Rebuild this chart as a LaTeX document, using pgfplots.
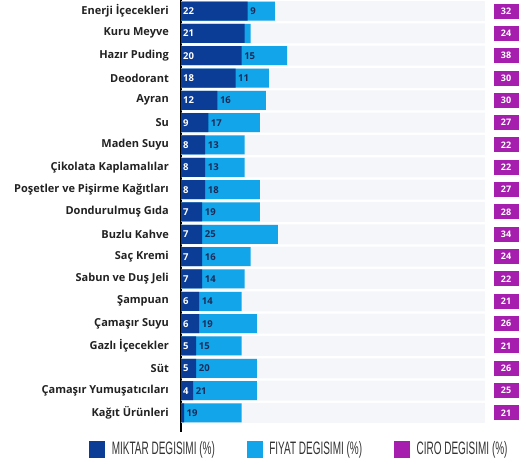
\documentclass[border=0pt]{standalone}
\usepackage{pgfplots}
\pgfplotsset{compat=1.18}
\usepackage{pgfplotstable}
\usepackage{fontspec}
\setmainfont{Open Sans}
\newfontfamily\condfont[FakeStretch=0.555]{Liberation Sans}
\definecolor{dark}{HTML}{0B3C96}
\definecolor{light}{HTML}{12A5EA}
\definecolor{ciro}{HTML}{A51EAE}
\definecolor{band}{HTML}{F5F6F9}
\definecolor{navy}{HTML}{1B2A56}
\definecolor{txt}{HTML}{222222}
\definecolor{leg}{HTML}{333333}

\pgfplotstableread{
idx dark light ciro band
0 22 9 32 100.3
1 21 2 24 100.3
2 20 15 38 100.3
3 18 11 30 100.3
4 12 16 30 100.3
5 9 17 27 100.3
6 8 13 22 100.3
7 8 13 22 100.3
8 8 18 27 100.3
9 7 19 28 100.3
10 7 25 34 100.3
11 7 16 24 100.3
12 7 14 22 100.3
13 6 14 21 100.3
14 6 19 26 100.3
15 5 15 21 100.3
16 5 20 26 100.3
17 4 21 25 100.3
18 1 19 21 100.3
}\data

\begin{document}
\begin{tikzpicture}[x=1pt,y=1pt]
\path[use as bounding box] (0,0) rectangle (526,466);
\begin{axis}[
  at={(181pt,34pt)}, anchor=south west,
  scale only axis, width=345pt, height=432pt,
  xmin=0, xmax=113.86, ymin=-0.493, ymax=18.853,
  y dir=reverse, clip=false,
  axis x line=none, axis y line*=left,
  y axis line style={line width=1.6pt, black},
  xtick=\empty,
  ytick={0,...,18}, major tick length=0pt,
  yticklabels={Enerji İçecekleri, Kuru Meyve, Hazır Puding, Deodorant, Ayran, Su, Maden Suyu, Çikolata Kaplamalılar, Poşetler ve Pişirme Kağıtları, Dondurulmuş Gıda, Buzlu Kahve, Saç Kremi, Sabun ve Duş Jeli, Şampuan, Çamaşır Suyu, Gazlı İçecekler, Süt, Çamaşır Yumuşatıcıları, Kağıt Ürünleri},
  yticklabel style={font=\bfseries\fontsize{11}{11}\selectfont, text=txt, inner sep=0pt, xshift=-12pt},
  legend columns=3,
  legend style={at={(0.3406,-0.0394)}, anchor=center, draw=none, fill=none,
    font=\condfont\fontsize{18}{18}\selectfont, text=leg,
    inner sep=0pt,
    nodes={inner sep=0pt},
    /tikz/every even column/.append style={column sep=32pt}},
]
\addlegendimage{legend image code/.code={\fill[dark] (0pt,-8pt) rectangle (15pt,8pt); \path (22pt,0pt);}}
\addlegendentry{MIKTAR DEGISIMI (\%)}
\addlegendimage{legend image code/.code={\fill[light] (0pt,-8pt) rectangle (15pt,8pt); \path (22pt,0pt);}}
\addlegendentry{FIYAT DEGISIMI (\%)}
\addlegendimage{legend image code/.code={\fill[ciro] (0pt,-8pt) rectangle (15pt,8pt); \path (22pt,0pt);}}
\addlegendentry{CIRO DEGISIMI (\%)}

\addplot[forget plot, xbar, bar width=20pt, bar shift=0pt, fill=band, draw=none] table[x=band, y=idx] {\data};
\addplot[forget plot, xbar, bar width=19pt, bar shift=0pt, fill=light, draw=none] table[x expr=\thisrow{dark}+\thisrow{light}, y=idx] {\data};
\addplot[forget plot, xbar, bar width=19pt, bar shift=0pt, fill=dark, draw=none] table[x=dark, y=idx] {\data};

\addplot[forget plot, only marks, mark=*, mark size=0pt, mark options={draw=none, fill=none},
  skip coords between index={18}{19},
  point meta=explicit symbolic, nodes near coords,
  every node near coord/.append style={anchor=west, xshift=2pt, inner sep=0pt, text=white, font=\bfseries\fontsize{9.5}{9.5}\selectfont}]
  table[x expr=0, y=idx, meta=dark] {\data};
\addplot[forget plot, only marks, mark=*, mark size=0pt, mark options={draw=none, fill=none},
  skip coords between index={1}{2},
  point meta=explicit symbolic, nodes near coords,
  every node near coord/.append style={anchor=west, xshift=2.5pt, inner sep=0pt, text=navy, font=\bfseries\fontsize{9.5}{9.5}\selectfont}]
  table[x=dark, y=idx, meta=light] {\data};
\addplot[forget plot, only marks, mark=*, mark size=0pt, mark options={draw=none, fill=none},
  point meta=explicit symbolic, nodes near coords,
  every node near coord/.append style={anchor=center, fill=ciro, text=white, minimum width=25pt, minimum height=15pt, inner sep=0pt, font=\bfseries\fontsize{9}{9}\selectfont}]
  table[x expr=107.3, y=idx, meta=ciro] {\data};
\end{axis}
\end{tikzpicture}
\end{document}
